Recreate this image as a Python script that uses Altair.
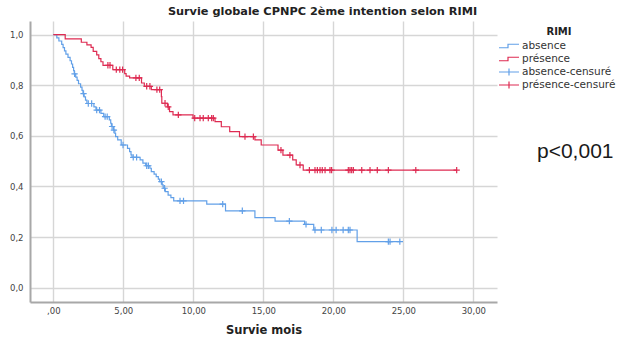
import altair as alt
import pandas as pd

# ---------------- data ----------------
# Kaplan-Meier steps: (time in months, survival after the step)
ABSENCE_STEPS = [
    (0, 1.0), (0.25, 0.987), (0.4, 0.975), (0.6, 0.962), (0.7, 0.949), (0.8, 0.936),
    (0.9, 0.923), (1.05, 0.910), (1.2, 0.897), (1.3, 0.884), (1.38, 0.871), (1.45, 0.858),
    (1.5, 0.845), (1.6, 0.832), (1.7, 0.819), (1.8, 0.806), (1.95, 0.793), (2.05, 0.780),
    (2.12, 0.767), (2.2, 0.754), (2.3, 0.741), (2.4, 0.728), (2.9, 0.715), (3.05, 0.702),
    (3.4, 0.689), (3.6, 0.676), (4.0, 0.663), (4.1, 0.650), (4.15, 0.637), (4.3, 0.623),
    (4.4, 0.610), (4.45, 0.597), (4.6, 0.584), (4.85, 0.564), (5.3, 0.551), (5.45, 0.538),
    (5.55, 0.525), (5.62, 0.515), (6.2, 0.505), (6.4, 0.492), (6.6, 0.482), (6.9, 0.472),
    (7.0, 0.459), (7.2, 0.449), (7.35, 0.439), (7.5, 0.429), (7.6, 0.419), (7.78, 0.406),
    (7.85, 0.393), (8.0, 0.380), (8.2, 0.366), (8.4, 0.356), (8.6, 0.343), (10.96, 0.330),
    (12.3, 0.304), (14.4, 0.277), (15.84, 0.263), (17.95, 0.250), (18.6, 0.228), (21.7, 0.182),
]
ABSENCE_CENSORED = [
    1.52, 2.16, 2.5, 2.74, 3.1, 3.3, 3.7, 3.85, 4.2, 4.33, 4.98, 5.71, 5.95, 6.67, 6.79,
    7.72, 7.95, 9.05, 9.3, 12.1, 13.5, 16.86, 18.05, 18.69, 19.14, 19.9, 20.2, 20.7,
    21.07, 21.19, 23.93, 24.05, 24.75,
]
PRESENCE_STEPS = [
    (0, 1.0), (0.85, 0.983), (2.0, 0.970), (2.4, 0.960), (2.7, 0.950), (2.85, 0.934),
    (3.1, 0.920), (3.25, 0.905), (3.4, 0.893), (3.55, 0.879), (4.25, 0.862), (5.1, 0.846),
    (5.2, 0.836), (5.45, 0.829), (6.3, 0.809), (6.5, 0.796), (7.0, 0.783), (7.72, 0.755),
    (7.75, 0.729), (8.15, 0.715), (8.3, 0.696), (8.55, 0.683), (9.98, 0.670), (11.55, 0.656),
    (12.0, 0.636), (12.6, 0.617), (13.3, 0.597), (14.4, 0.584), (14.85, 0.564), (16.05, 0.544),
    (16.4, 0.524), (17.1, 0.505), (17.35, 0.485), (17.85, 0.465),
]
PRESENCE_CENSORED = [
    3.9, 4.05, 4.5, 4.75, 4.95, 5.9, 6.14, 6.67, 6.9, 7.4, 7.6, 7.98, 8.21, 8.93,
    10.1, 10.48, 10.71, 11.07, 11.31, 11.43, 13.69, 14.29, 16.26, 16.9, 17.62,
    18.29, 18.69, 18.86, 19.05, 19.21, 19.41, 19.76, 19.88, 21.07, 21.19, 21.31, 21.43,
    22.03, 22.62, 23.14, 23.93, 25.89, 28.81,
]
GROUPS = ["absence", "présence", "absence-censuré", "présence-censuré"]
BLUE = "#62a0e8"
RED = "#de2b52"
COLORS = [BLUE, RED, BLUE, RED]
X_TICKS = [0, 5, 10, 15, 20, 25, 30]
Y_TICKS = [0.0, 0.2, 0.4, 0.6, 0.8, 1.0]
TITLE = "Survie globale CPNPC 2ème intention selon RIMI"
X_TITLE = "Survie mois"
LEGEND_TITLE = "RIMI"
P_TEXT = "p<0,001"


def step_value(steps, t):
    val = steps[0][1]
    for st, sv in steps:
        if st <= t:
            val = sv
    return val


line_rows = []
cens_rows = []
for name, steps, cens in [("absence", ABSENCE_STEPS, ABSENCE_CENSORED),
                          ("présence", PRESENCE_STEPS, PRESENCE_CENSORED)]:
    for i, (t, s) in enumerate(steps):
        line_rows.append({"grp": name, "t": t, "s": s, "o": i})
    line_rows.append({"grp": name, "t": max(cens), "s": steps[-1][1], "o": len(steps)})
    for t in cens:
        cens_rows.append({"grp": name + "-censuré", "t": t, "s": step_value(steps, t)})

lines_df = pd.DataFrame(line_rows)
cens_df = pd.DataFrame(cens_rows)
legend_df = pd.DataFrame({"grp": GROUPS})
ptext_df = pd.DataFrame({"label": [P_TEXT]})

FONT = "DejaVu Sans"
STEP_PATH = "M-2,0.35H-0.2V-0.35H2"
CROSS_PATH = "M-2,0H2M0,-0.7V0.7"
PLUS_PATH = "M-1,0H1M0,-1V1"

color_scale = alt.Scale(domain=GROUPS, range=COLORS)
shape_scale = alt.Scale(domain=GROUPS, range=[STEP_PATH, STEP_PATH, CROSS_PATH, CROSS_PATH])

x_enc = alt.X(
    "t:Q",
    scale=alt.Scale(domain=[-1.664, 31.69], nice=False, zero=False),
    axis=alt.Axis(
        values=X_TICKS,
        labelExpr="datum.value == 0 ? ',00' : replace(format(datum.value, '.2f'), '.', ',')",
        title=X_TITLE,
        grid=True,
    ),
)
y_enc = alt.Y(
    "s:Q",
    scale=alt.Scale(domain=[-0.0565, 1.054], nice=False, zero=False),
    axis=alt.Axis(
        values=Y_TICKS,
        labelExpr="replace(format(datum.value, '.1f'), '.', ',')",
        title=None,
        grid=True,
    ),
)

lines = alt.Chart(lines_df).mark_line(interpolate="step-after", strokeWidth=1.2).encode(
    x=x_enc,
    y=y_enc,
    detail="grp:N",
    color=alt.condition(alt.datum.grp == "absence", alt.value(BLUE), alt.value(RED)),
    order="o:Q",
)

cens = alt.Chart(cens_df).mark_point(shape=PLUS_PATH, filled=False, size=40, strokeWidth=1.2, opacity=1).encode(
    x=x_enc,
    y=y_enc,
    color=alt.condition(alt.datum.grp == "absence-censuré", alt.value(BLUE), alt.value(RED)),
)

leg = alt.Legend(
    title=LEGEND_TITLE,
    orient="none",
    legendX=473,
    legendY=6,
    padding=0,
    symbolSize=100,
    symbolStrokeWidth=1.2,
    labelOffset=7,
    rowPadding=1,
    titleAnchor="middle",
    titleAlign="center",
    titlePadding=3,
)
legend_layer = alt.Chart(legend_df).transform_filter("false").mark_point(filled=False, opacity=1).encode(
    color=alt.Color("grp:N", scale=color_scale, legend=leg),
    shape=alt.Shape("grp:N", scale=shape_scale, legend=leg),
)

ptext = alt.Chart(ptext_df).mark_text(
    align="left", baseline="alphabetic", font="Liberation Sans", fontSize=21, color="#1a1a1a"
).encode(
    x=alt.value(507),
    y=alt.value(137),
    text="label:N",
)

chart = (
    alt.layer(lines, cens, legend_layer, ptext)
    .properties(
        width=467,
        height=281,
        title=alt.TitleParams(
            TITLE, font=FONT, fontSize=11.3, fontWeight="bold", color="#222222",
            anchor="middle", dx=59, offset=4,
        ),
        autosize=alt.AutoSizeParams(type="none"),
        padding={"left": 30, "top": 21, "right": 137, "bottom": 36},
    )
    .configure_view(stroke=None)
    .configure_axis(
        labelFont=FONT,
        labelFontSize=8.5,
        labelColor="#444444",
        gridColor="#d6d6d6",
        gridWidth=1.4,
        domainColor="#a8a8a8",
        domainWidth=2,
        ticks=False,
        tickSize=0,
        titleFont=FONT,
        titleFontSize=11.5,
        titleFontWeight="bold",
        titleColor="#222222",
    )
    .configure_axisX(labelPadding=4, titlePadding=10)
    .configure_axisY(labelPadding=7)
    .configure_legend(
        labelFont=FONT,
        labelFontSize=10.5,
        labelColor="#333333",
        titleFont=FONT,
        titleFontSize=10,
        titleFontWeight="bold",
        titleColor="#222222",
    )
)

chart.save("out.html", embed_options={"renderer": "svg", "actions": False})
